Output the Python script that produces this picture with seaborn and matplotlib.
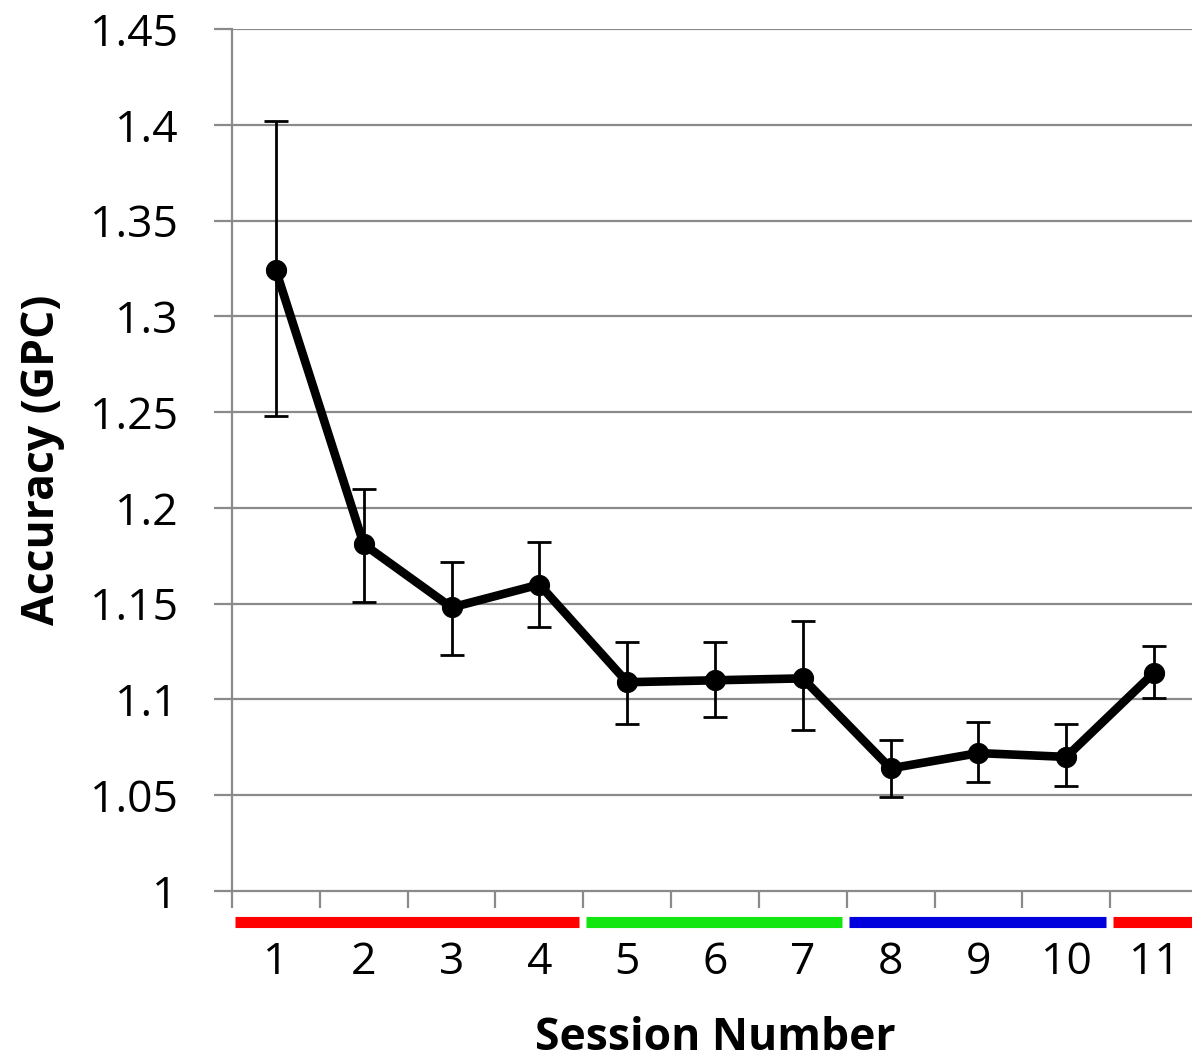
import matplotlib
matplotlib.use("Agg")
import matplotlib.pyplot as plt
import seaborn as sns
import numpy as np
import pandas as pd

# session means and error bar half-widths
sessions = [1, 2, 3, 4, 5, 6, 7, 8, 9, 10, 11]
accuracy = [1.324, 1.181, 1.148, 1.160, 1.109, 1.110, 1.111, 1.064, 1.072, 1.070, 1.114]
err_low = [0.076, 0.030, 0.025, 0.022, 0.022, 0.019, 0.027, 0.015, 0.015, 0.015, 0.013]
err_high = [0.078, 0.029, 0.024, 0.022, 0.021, 0.020, 0.030, 0.015, 0.016, 0.017, 0.014]

# coloured phase bars under the x axis
phase_start = [1, 5, 8, 11]
phase_end = [4, 7, 10, 11]
phase_color = ["#ff0000", "#11e611", "#0000dd", "#ff0000"]

y_ticks = [1, 1.05, 1.1, 1.15, 1.2, 1.25, 1.3, 1.35, 1.4, 1.45]

sns.set_style("white")
plt.rcParams['font.family'] = ['Open Sans', 'DejaVu Sans']
plt.rcParams['text.color'] = 'black'
plt.rcParams['xtick.labelcolor'] = 'black'
plt.rcParams['ytick.labelcolor'] = 'black'
plt.rcParams['axes.labelcolor'] = 'black'

df = pd.DataFrame({"Session": sessions, "Accuracy": accuracy})

fig = plt.figure(figsize=(11.92, 10.62), dpi=100)
ax = fig.add_axes([232 / 1192, 171 / 1062, 966 / 1192, 862 / 1062])

grid_col = "#8a8a8a"
for y in y_ticks[1:]:
    ax.axhline(y, color=grid_col, lw=1.6, zorder=0)

ax.errorbar(sessions, accuracy, yerr=[err_low, err_high], fmt="none",
            ecolor="black", elinewidth=2, capsize=8.5, capthick=2, zorder=2)
sns.lineplot(data=df, x="Session", y="Accuracy", ax=ax, color="black",
             linewidth=6.2, marker="o", markersize=14.5, markeredgecolor="black",
             zorder=3)

ax.set_xlim(0.5, 11.5)
ax.set_ylim(1.0, 1.45)
ax.set_yticks(y_ticks)
ax.set_yticklabels([f"{t:g}" for t in y_ticks])

# boundary ticks between sessions, labels at the centres
ax.set_xticks(np.arange(0.5, 12, 1))
ax.set_xticklabels([])
ax.set_xticks(sessions, minor=True)
ax.set_xticklabels([str(s) for s in sessions], minor=True)
ax.tick_params(axis="x", which="major", length=12, width=1.6, color=grid_col, direction="out")
ax.tick_params(axis="x", which="minor", length=0, pad=36, labelsize=32, labelcolor="black")
ax.tick_params(axis="y", length=13, width=1.6, color=grid_col, pad=26, labelsize=32,
               direction="out", labelcolor="black")
ax.tick_params(bottom=True, left=True)

for s in ["top", "right"]:
    ax.spines[s].set_visible(False)
for s in ["left", "bottom"]:
    ax.spines[s].set_color(grid_col)
    ax.spines[s].set_linewidth(1.6)

trans = ax.get_xaxis_transform()
for st, en, c in zip(phase_start, phase_end, phase_color):
    ax.hlines(-0.036, st - 0.47, en + 0.45, colors=c, lw=8, transform=trans, clip_on=False)

ax.set_xlabel("Session Number", fontsize=32, fontweight="bold", labelpad=22, color="black")
ax.set_ylabel("Accuracy (GPC)", fontsize=32, fontweight="bold", labelpad=18, color="black")

fig.savefig("out.png", dpi=100)
